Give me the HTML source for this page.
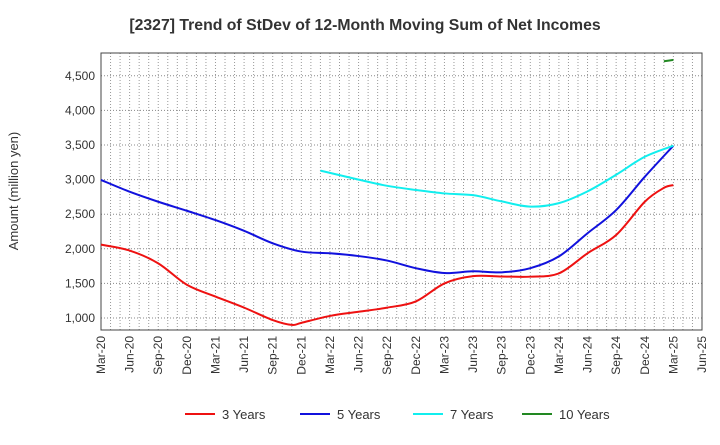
<!DOCTYPE html>
<html><head><meta charset="utf-8"><style>
body{margin:0;background:#fff;font-family:"Liberation Sans",sans-serif;}
svg text{font-family:"Liberation Sans",sans-serif;fill:#333;}
</style></head><body>
<svg width="720" height="440" xmlns="http://www.w3.org/2000/svg" id="chart">
<text x="365" y="30" text-anchor="middle" font-size="15.8" font-weight="bold">[2327]  Trend of StDev of 12-Month Moving Sum of Net Incomes</text>
<text transform="translate(18,191) rotate(-90)" text-anchor="middle" font-size="13">Amount (million yen)</text>
<g id="grid"></g>
<g id="axes"></g>
<g id="series"></g>
<g id="legend"></g>
</svg>
<script>
const xLabels=["Mar-20","Jun-20","Sep-20","Dec-20","Mar-21","Jun-21","Sep-21","Dec-21","Mar-22","Jun-22","Sep-22","Dec-22","Mar-23","Jun-23","Sep-23","Dec-23","Mar-24","Jun-24","Sep-24","Dec-24","Mar-25","Jun-25"];
const yTicks=[1000,1500,2000,2500,3000,3500,4000,4500];
const seriesNames=["3 Years","5 Years","7 Years","10 Years"];
const seriesColors=["#ee1111","#1111dd","#11eeee","#228822"];
const m3=[0,3,6,9,12,15,18,20,21,24,27,30,33,36,39,42,45,48,51,54,57,59,60];
const v3=[2060,1975,1790,1480,1310,1150,970,900,930,1030,1090,1150,1240,1500,1605,1600,1597,1645,1935,2200,2680,2880,2920];
const m5=[0,3,6,9,12,15,18,21,24,27,30,33,36,39,42,45,48,51,54,57,60];
const v5=[2995,2825,2680,2550,2415,2260,2080,1960,1935,1895,1830,1720,1650,1675,1660,1720,1890,2225,2560,3040,3490];
const m7=[23,27,30,33,36,39,42,45,48,51,54,57,60];
const v7=[3130,3000,2910,2850,2800,2775,2685,2610,2660,2830,3070,3330,3490];
const m10=[59,60];
const v10=[4710,4730];
const X0=101,X1=702,Y0=53,Y1=330,NM=63;
const xs=m=>X0+(X1-X0)*m/NM;
const ys=v=>318-(v-1000)/500*34.6;
const NS="http://www.w3.org/2000/svg";
function mk(tag,attrs,parent){const e=document.createElementNS(NS,tag);for(const k in attrs)e.setAttribute(k,attrs[k]);parent.appendChild(e);return e;}
const grid=document.getElementById('grid'),axes=document.getElementById('axes'),ser=document.getElementById('series'),leg=document.getElementById('legend');
for(let m=1;m<NM;m++){const l=mk('line',{x1:xs(m),x2:xs(m),y1:Y0,y2:Y1,stroke:'#999','stroke-width':1,'stroke-dasharray':'1,2'},grid);

}
yTicks.forEach(v=>{const l=mk('line',{x1:X0,x2:X1,y1:ys(v),y2:ys(v),stroke:'#888','stroke-width':1,'stroke-dasharray':'1,2'},grid);


const t=mk('text',{x:X0-6,y:ys(v)+4,'text-anchor':'end','font-size':12},axes);t.textContent=v.toLocaleString('en-US');

});
const fr=mk('rect',{x:X0,y:Y0,width:X1-X0,height:Y1-Y0,fill:'none',stroke:'#444','stroke-width':1},axes);


xLabels.forEach((s,i)=>{const x=xs(i*3);const t=mk('text',{transform:`translate(${x+4},${Y1+6}) rotate(-90)`,'text-anchor':'end','font-size':12},axes);t.textContent=s;

});
function path(ms,vs){const p=ms.map((m,i)=>[xs(m),ys(vs[i])]);let d=`M${p[0][0]},${p[0][1]}`;
for(let i=0;i<p.length-1;i++){const a=p[Math.max(i-1,0)],b=p[i],c=p[i+1],e=p[Math.min(i+2,p.length-1)];
d+=` C${b[0]+(c[0]-a[0])/6},${b[1]+(c[1]-a[1])/6} ${c[0]-(e[0]-b[0])/6},${c[1]-(e[1]-b[1])/6} ${c[0]},${c[1]}`;}return d;}
[[m3,v3],[m5,v5],[m7,v7],[m10,v10]].forEach((s,i)=>{const p=mk('path',{d:path(s[0],s[1]),fill:'none',stroke:seriesColors[i],'stroke-width':2},ser);

});
const lx=[185,300,413,522];
seriesNames.forEach((n,i)=>{const g=mk('g',{},leg);


mk('line',{x1:lx[i],x2:lx[i]+30,y1:414,y2:414,stroke:seriesColors[i],'stroke-width':2},g);
const t=mk('text',{x:lx[i]+37,y:419,'font-size':13},g);t.textContent=n;});
</script>
</body></html>
